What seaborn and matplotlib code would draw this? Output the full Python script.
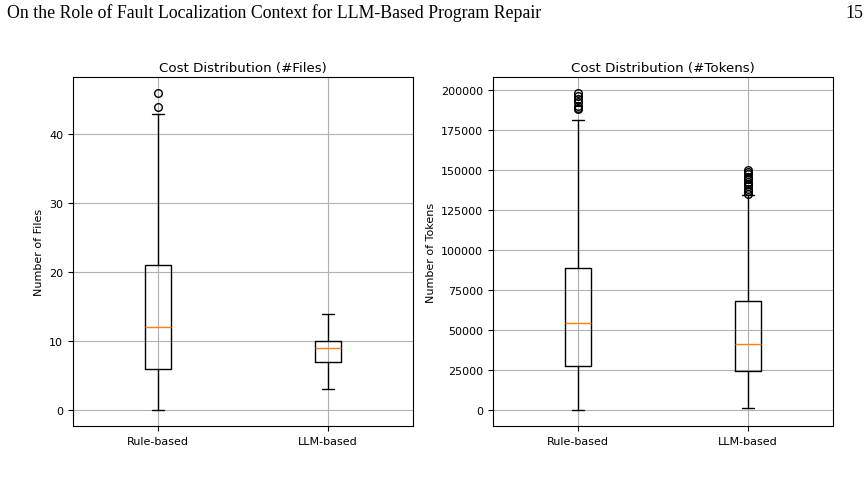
import matplotlib
matplotlib.use("Agg")
import matplotlib.pyplot as plt
import seaborn as sns

# box statistics
labels = ["Rule-based", "LLM-based"]

# cost in #files
files_whislo = [0, 3]
files_q1 = [6, 7]
files_med = [12, 9]
files_q3 = [21, 10]
files_whishi = [43, 14]
files_fliers = [[44, 46], []]

# cost in #tokens
tok_whislo = [0, 1500]
tok_q1 = [27500, 24200]
tok_med = [54400, 41600]
tok_q3 = [89200, 68500]
tok_whishi = [181800, 134500]
tok_fliers = [
    [188500, 189200, 190200, 192500, 194500, 196500, 198500],
    [135500, 137000, 138500, 140000, 141500, 143000, 144500, 146000,
     147500, 149000, 150500],
]


def make_stats(lo, q1, med, q3, hi, fliers):
    stats = []
    for i, lab in enumerate(labels):
        stats.append({"label": lab, "whislo": lo[i], "q1": q1[i], "med": med[i],
                      "q3": q3[i], "whishi": hi[i], "fliers": fliers[i]})
    return stats


sns.set_style("ticks", {"axes.grid": True, "grid.color": "#b0b0b0",
                        "axes.edgecolor": "black", "xtick.color": "black",
                        "ytick.color": "black", "axes.labelcolor": "black",
                        "text.color": "black"})
plt.rcParams["font.family"] = ["DejaVu Sans"]
plt.rcParams["font.size"] = 8

fig = plt.figure(figsize=(8.68, 4.81), dpi=100)
ax1 = fig.add_axes([73 / 868, 54 / 481, 340 / 868, 349 / 481])
ax2 = fig.add_axes([493 / 868, 54 / 481, 340 / 868, 349 / 481])

panels = [
    (ax1, make_stats(files_whislo, files_q1, files_med, files_q3, files_whishi, files_fliers),
     "Cost Distribution (#Files)", "Number of Files"),
    (ax2, make_stats(tok_whislo, tok_q1, tok_med, tok_q3, tok_whishi, tok_fliers),
     "Cost Distribution (#Tokens)", "Number of Tokens"),
]

for ax, stats, title, ylab in panels:
    ax.bxp(stats, widths=0.15,
           medianprops={"color": "#ff7f0e", "linewidth": 1},
           boxprops={"color": "black", "linewidth": 1},
           whiskerprops={"color": "black", "linewidth": 1},
           capprops={"color": "black", "linewidth": 1},
           flierprops={"marker": "o", "markerfacecolor": "none",
                       "markeredgecolor": "black", "markersize": 5.5})
    ax.set_title(title, fontsize=9.6, pad=4)
    ax.set_ylabel(ylab, fontsize=8)
    ax.tick_params(labelsize=8, length=3.5, width=0.8)
    ax.grid(True, color="#b0b0b0", linewidth=0.8)
    for s in ax.spines.values():
        s.set_linewidth(0.8)
        s.set_color("black")

ax1.set_yticks([0, 10, 20, 30, 40])

# page header
fig.text(7 / 868, 1 - 13 / 481, "On the Role of Fault Localization Context for LLM-Based Program Repair",
         family="Liberation Serif", fontsize=12.8, va="center", ha="left")
fig.text(863 / 868, 1 - 13 / 481, "15", family="Liberation Serif", fontsize=12.8,
         va="center", ha="right")

fig.savefig("out.png", dpi=100, facecolor="white")
